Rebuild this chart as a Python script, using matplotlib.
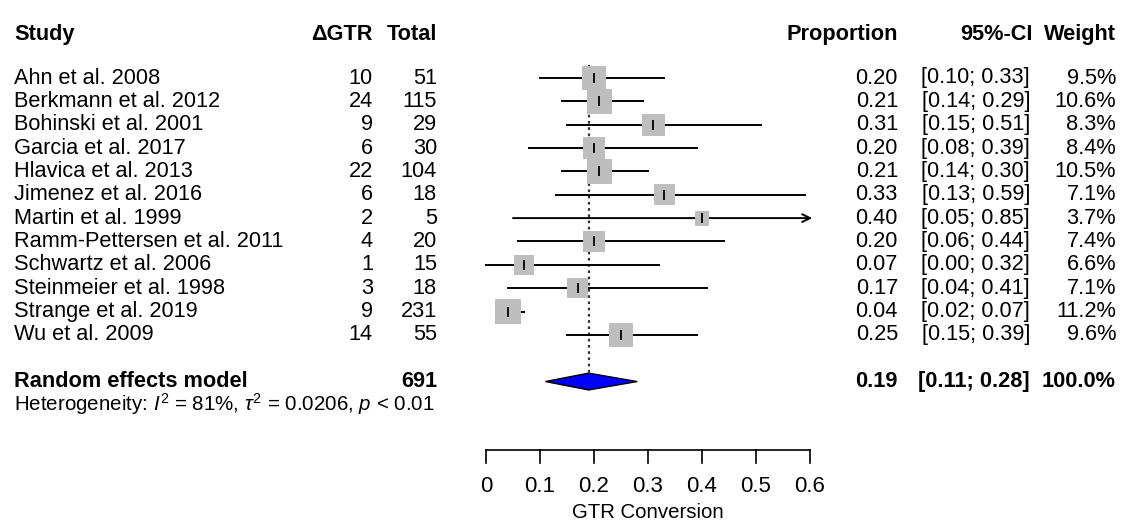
import matplotlib.pyplot as plt
import matplotlib.transforms as mtransforms

plt.rcParams['font.family'] = ['Liberation Sans', 'DejaVu Sans']
plt.rcParams['mathtext.fontset'] = 'custom'
plt.rcParams['mathtext.rm'] = 'Liberation Sans'
plt.rcParams['mathtext.it'] = 'Liberation Sans:italic'

studies = ["Ahn et al. 2008", "Berkmann et al. 2012", "Bohinski et al. 2001",
           "Garcia et al. 2017", "Hlavica et al. 2013", "Jimenez et al. 2016",
           "Martin et al. 1999", "Ramm-Pettersen et al. 2011", "Schwartz et al. 2006",
           "Steinmeier et al. 1998", "Strange et al. 2019", "Wu et al. 2009"]
events = [10, 24, 9, 6, 22, 6, 2, 4, 1, 3, 9, 14]
totals = [51, 115, 29, 30, 104, 18, 5, 20, 15, 18, 231, 55]
props = [0.20, 0.21, 0.31, 0.20, 0.21, 0.33, 0.40, 0.20, 0.07, 0.17, 0.04, 0.25]
lower = [0.10, 0.14, 0.15, 0.08, 0.14, 0.13, 0.05, 0.06, 0.00, 0.04, 0.02, 0.15]
upper = [0.33, 0.29, 0.51, 0.39, 0.30, 0.59, 0.85, 0.44, 0.32, 0.41, 0.07, 0.39]
weights = [9.5, 10.6, 8.3, 8.4, 10.5, 7.1, 3.7, 7.4, 6.6, 7.1, 11.2, 9.6]

pooled, pooled_lo, pooled_hi = 0.19, 0.11, 0.28
pooled_total = 691
ticks = [0, 0.1, 0.2, 0.3, 0.4, 0.5, 0.6]
xmax = 0.6

W, H = 1121, 525
fig = plt.figure(figsize=(W / 100, H / 100), dpi=100)
ax = fig.add_axes([0, 0, 1, 1])
ax.axis("off")

# pixel layout: 0 -> 486 px, 0.6 -> 810 px ; rows 23.35 px apart from y=78
x0, xs = 486, 540.0
y0, ys = 78, 23.35
ax.set_xlim(-x0 / xs, (W - x0) / xs)
ax.set_ylim((H - y0) / ys, -y0 / ys)

tr = mtransforms.blended_transform_factory(fig.transFigure, ax.transData)
fs = 15.7

def col(px):
    return px / W

# header
hdr_row = -1.88
ax.text(col(14), hdr_row, "Study", transform=tr, fontsize=fs, fontweight="bold", va="center")
ax.text(col(373), hdr_row, "ΔGTR", transform=tr, fontsize=fs, fontweight="bold", va="center", ha="right")
ax.text(col(437), hdr_row, "Total", transform=tr, fontsize=fs, fontweight="bold", va="center", ha="right")
ax.text(col(898), hdr_row, "Proportion", transform=tr, fontsize=fs, fontweight="bold", va="center", ha="right")
ax.text(col(1033), hdr_row, "95%-CI", transform=tr, fontsize=fs, fontweight="bold", va="center", ha="right")
ax.text(col(1116), hdr_row, "Weight", transform=tr, fontsize=fs, fontweight="bold", va="center", ha="right")

for i, s in enumerate(studies):
    ax.text(col(14), i, s, transform=tr, fontsize=fs, va="center")
    ax.text(col(373), i, str(events[i]), transform=tr, fontsize=fs, va="center", ha="right")
    ax.text(col(437), i, str(totals[i]), transform=tr, fontsize=fs, va="center", ha="right")
    ax.text(col(898), i, f"{props[i]:.2f}", transform=tr, fontsize=fs, va="center", ha="right")
    ax.text(col(1030), i, f"[{lower[i]:.2f}; {upper[i]:.2f}]", transform=tr, fontsize=fs, va="center", ha="right")
    ax.text(col(1116), i, f"{weights[i]:.1f}%", transform=tr, fontsize=fs, va="center", ha="right")

    # CI line, arrow when it runs past the axis
    if upper[i] > xmax:
        ax.annotate("", xy=(xmax + 0.004, i), xytext=(lower[i], i),
                    arrowprops=dict(arrowstyle="->", color="black", lw=1.4,
                                    shrinkA=0, shrinkB=0, mutation_scale=14))
    else:
        ax.plot([lower[i], upper[i]], [i, i], color="black", lw=1.4, zorder=2)

rows = list(range(len(studies)))
ax.scatter(props, rows, s=[31 * w for w in weights], marker="s", color="#bebebe",
           edgecolors="none", zorder=3)
ax.scatter(props, rows, s=55, marker="|", color="black", linewidths=1.3, zorder=4)

# pooled row
re_row = 13
ax.text(col(14), re_row, "Random effects model", transform=tr, fontsize=fs,
        fontweight="bold", va="center")
ax.text(col(437), re_row, str(pooled_total), transform=tr, fontsize=fs,
        fontweight="bold", va="center", ha="right")
ax.text(col(898), re_row, f"{pooled:.2f}", transform=tr, fontsize=fs,
        fontweight="bold", va="center", ha="right")
ax.text(col(1030), re_row, f"[{pooled_lo:.2f}; {pooled_hi:.2f}]", transform=tr,
        fontsize=fs, fontweight="bold", va="center", ha="right")
ax.text(col(1116), re_row, "100.0%", transform=tr, fontsize=fs,
        fontweight="bold", va="center", ha="right")
ax.text(col(14), 13.95, r"Heterogeneity: $I^2$ = 81%, $\tau^2$ = 0.0206, $p$ < 0.01",
        transform=tr, fontsize=14.8, va="center")

dh = 0.36
ax.fill([pooled_lo, pooled, pooled_hi, pooled], [re_row, re_row - dh, re_row, re_row + dh],
        facecolor="#0000ff", edgecolor="black", lw=1.0, zorder=3)

# dotted reference line
ax.plot([pooled, pooled], [-0.55, re_row + dh], color="#333333", lw=1.6,
        linestyle=(0, (1.2, 1.6)), zorder=1)

# x axis
axis_row = 15.93
ax.plot([ticks[0], ticks[-1]], [axis_row, axis_row], color="black", lw=1.2)
for t in ticks:
    ax.plot([t, t], [axis_row, axis_row + 0.55], color="black", lw=1.2)
    ax.text(t, 17.5, f"{t:g}", fontsize=fs + 0.3, ha="center", va="center")
ax.text((ticks[0] + ticks[-1]) / 2, 18.6, "GTR Conversion", fontsize=fs - 1,
        ha="center", va="center")

fig.savefig("out.png", dpi=100)
